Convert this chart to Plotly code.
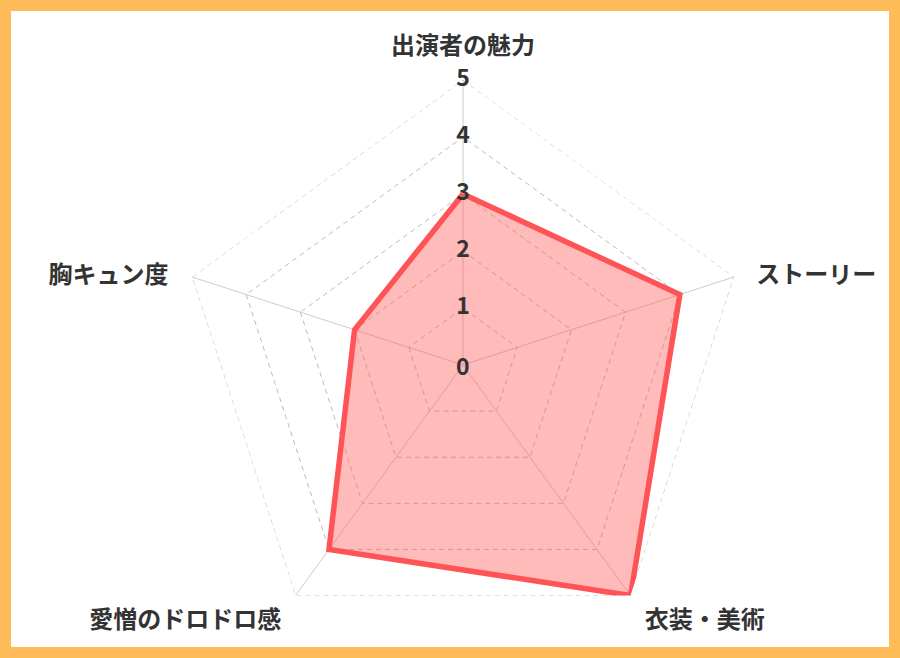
import plotly.graph_objects as go

categories = ["出演者の魅力", "ストーリー", "衣装・美術", "愛憎のドロドロ感", "胸キュン度"]
values = [3, 4, 5, 4, 2]
tick_values = [0, 1, 2, 3, 4, 5]
tick_labels = ["0", "1", "2", "3", "4", "5"]

W, H = 900, 658
ml, mr, mt, mb = 178, 152, 80, 8
pw, ph = W - ml - mr, H - mt - mb
font_family = "Noto Sans CJK JP"
eps = 1e-4
rmax = max(tick_values)
grid_dash = "5px,4px"
dash_color = "#BDBDBD"

fig = go.Figure()
# outer dashed ring
fig.add_trace(go.Scatterpolar(
    r=[rmax] * (len(categories) + 1),
    theta=categories + [categories[0]],
    mode="lines",
    line=dict(color=dash_color, width=1, dash=grid_dash),
    hoverinfo="skip",
))
# data polygon
fig.add_trace(go.Scatterpolar(
    r=values + [values[0]],
    theta=categories + [categories[0]],
    mode="lines",
    fill="toself",
    fillcolor="rgba(255,90,90,0.42)",
    line=dict(color="#FF5457", width=5.5, shape="linear"),
    hoverinfo="skip",
))
# radial tick labels
tick_font = dict(family=font_family, size=23, color="#333333", weight="bold")
fig.add_trace(go.Scatterpolar(
    r=tick_values[1:], theta=[categories[0]] * (len(tick_values) - 1),
    mode="text", text=tick_labels[1:], textposition="middle center",
    textfont=tick_font, hoverinfo="skip", cliponaxis=False,
))
# centre label (polar centre = middle of the polar domain)
fig.add_annotation(xref="paper", yref="paper", x=0.5, y=0.5, text=tick_labels[0],
                   showarrow=False, font=tick_font, xanchor="center", yanchor="middle")
# category labels
fig.add_trace(go.Scatterpolar(
    r=[rmax] * len(categories), theta=categories,
    mode="markers+text", text=categories,
    textposition=["top center", "middle right", "bottom right", "bottom left", "middle left"],
    marker=dict(size=[30, 34, 21, 21, 36], opacity=0),
    textfont=dict(family=font_family, size=24, color="#333333", weight="bold"),
    hoverinfo="skip", cliponaxis=False,
))

# border
b = 11
fig.add_shape(type="rect", xref="paper", yref="paper",
              x0=(b / 2 - ml) / pw, x1=(W - b / 2 - ml) / pw,
              y0=(b / 2 - mb) / ph, y1=(H - b / 2 - mb) / ph,
              line=dict(color="#FFBB57", width=b), fillcolor="rgba(0,0,0,0)", layer="above")

fig.update_layout(
    width=W, height=H,
    margin=dict(l=ml, r=mr, t=mt, b=mb),
    paper_bgcolor="white",
    showlegend=False,
    font=dict(family=font_family, color="#333333"),
    polar=dict(
        bgcolor="white",
        gridshape="linear",
        domain=dict(x=[0, 1], y=[0, 1]),
        radialaxis=dict(range=[0, rmax + eps], tickvals=tick_values, showticklabels=False,
                        showline=False, ticks="", gridcolor=dash_color, griddash=grid_dash,
                        gridwidth=1, layer="below traces"),
        angularaxis=dict(rotation=90, direction="clockwise", showline=False,
                         showticklabels=False, ticks="",
                         gridcolor="#CCCCCC", gridwidth=1, layer="below traces"),
    ),
)

fig.write_html("out.html")
